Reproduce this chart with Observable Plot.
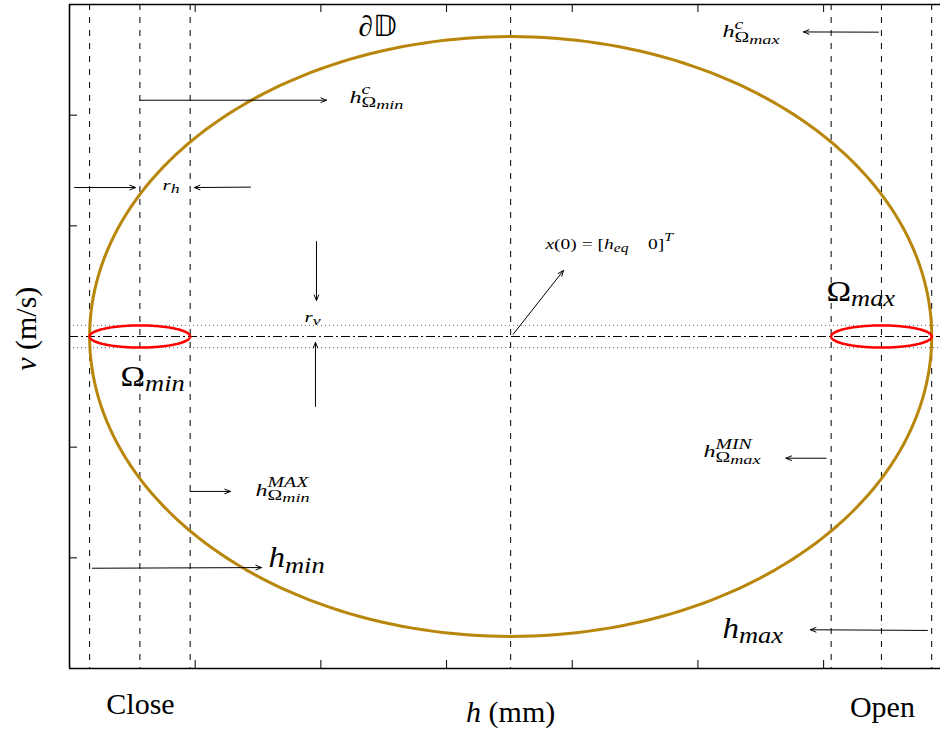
<!DOCTYPE html>
<html>
<head>
<meta charset="utf-8">
<script src="https://cdn.jsdelivr.net/npm/d3@7"></script>
<script src="https://cdn.jsdelivr.net/npm/@observablehq/plot@0.6"></script>
<style>
  html, body { margin: 0; padding: 0; background: #fff; overflow: hidden; }
  #chart svg { display: block; }
</style>
</head>
<body>
<div id="chart"></div>
<script>
// Operating region of the valve in the (h, v) plane:
// gap h (mm) on the horizontal axis, velocity v (m/s) on the vertical one.

const hTicks = [1, 2, 3, 4, 5, 6];
const vTicks = [-2, -1, 0, 1, 2];

const hMin = 0.16;        // fully closed
const hMax = 6.86;        // fully open
const hEq = 3.51;         // equilibrium gap, x(0) = [h_eq 0]^T
const vBound = 2.71;      // half-height of the admissible set ∂𝔻
const rH = 0.4;           // half-width of the terminal sets
const rV = 0.1;           // half-height of the terminal sets
const omegaCenters = [0.56, 6.46];   // h^c of Ω_min and Ω_max
const omegaNames = ["min", "max"];

// vertical guides: h_min, h^c_Ωmin, h^MAX_Ωmin, h_eq, h^MIN_Ωmax, h^c_Ωmax, h_max
const hGuides = [hMin, 0.56, 0.96, hEq, 6.06, 6.46, hMax];

// annotation arrows [h1, v1, h2, v2]
const arrows = [
  [0.56, 2.135, 2.045, 2.135],    // h^c_Ωmin
  [0.04, 1.346, 0.525, 1.346],    // r_h (from the left)
  [1.44, 1.350, 0.994, 1.346],    // r_h (from the right)
  [6.436, 2.750, 5.84, 2.752],    // h^c_Ωmax
  [1.965, 0.858, 1.965, 0.325],   // r_v (from above)
  [1.957, -0.632, 1.957, -0.054], // r_v (from below)
  [3.53, 0.02, 3.93, 0.596],      // x(0)
  [0.96, -1.40, 1.28, -1.40],     // h^MAX_Ωmin
  [6.02, -1.10, 5.70, -1.10],     // h^MIN_Ωmax
  [0.183, -2.094, 1.527, -2.088], // h_min
  [6.826, -2.656, 5.895, -2.650]  // h_max
];

// annotation text (mini TeX: ^ and _ for scripts, backticks for upright text)
const labelTex = [
  "∂𝔻",
  "h^{c}_{Ω_{min}}",
  "r_{h}",
  "h^{c}_{Ω_{max}}",
  "r_{v}",
  "x(0) = [h_{eq}\u2002\u20020]^{T}",
  "Ω_{max}",
  "Ω_{min}",
  "h^{MAX}_{Ω_{min}}",
  "h^{MIN}_{Ω_{max}}",
  "h_{min}",
  "h_{max}",
  "`Close`",
  "`Open`",
  "h `(mm)`",
  "v `(m/s)`"
];
const labelH = [2.30, 2.227, 0.74, 5.195, 1.87, 3.787, 6.023, 0.406, 1.48, 5.044, 1.583, 5.195, 0.565, 6.468, 3.51, -0.27];
const labelV = [2.711, 2.114, 1.328, 2.702, 0.127, 0.795, 0.325, -0.443, -1.437, -1.093, -2.087, -2.72, -3.407, -3.434, -3.479, 0.07];
const labelKind = ["title", "small", "tiny", "small", "tiny", "mid", "big", "big", "small", "small", "big", "big", "axis", "axis", "axis", "yaxis"];

// typographic settings per kind of label
const fontSize = {title: 29, big: 29, small: 17, tiny: 15, mid: 15, axis: 30, yaxis: 30};
const scriptScale = {title: 0.8, big: 0.8, small: 0.82, tiny: 0.85, mid: 0.8, axis: 0.8, yaxis: 0.8};
const widthStretch = {title: 1, big: 1.14, small: 1.42, tiny: 1.4, mid: 1.3, axis: 1, yaxis: 1};

// outline of an ellipse centred on (cx, cy) with semi-axes rx, ry
function ellipse(cx, cy, rx, ry, key) {
  return d3.range(241).map(k => {
    const t = (2 * Math.PI * k) / 240;
    return {h: cx + rx * Math.cos(t), v: cy + ry * Math.sin(t), key};
  });
}
const boundary = ellipse(hEq, 0, (hMax - hMin) / 2, vBound, "D");
const omegas = omegaCenters.flatMap((c, i) => ellipse(c, 0, rH, rV, omegaNames[i]));

const allIdx = labelKind.map((k, i) => i);
const startIdx = allIdx.filter(i => !labelKind[i].includes("axis"));
const axisIdx = allIdx.filter(i => labelKind[i] === "axis");
const yIdx = allIdx.filter(i => labelKind[i] === "yaxis");

const textOpts = {
  x: i => labelH[i],
  y: i => labelV[i],
  text: i => "§" + i,
  fill: "black",
  lineAnchor: "bottom"
};

const plot = Plot.plot({
  width: 940,
  height: 731,
  marginLeft: 69,
  marginRight: 0,
  marginTop: 4,
  marginBottom: 63,
  x: {domain: [0, 6.93], axis: null},
  y: {domain: [-3, 3], axis: null},
  style: {fontFamily: "'Liberation Serif', serif", background: "white", overflow: "visible"},
  marks: [
    // set-point axis and the ±r_v band
    Plot.ruleY([0], {stroke: "black", strokeWidth: 1, strokeDasharray: "9,3,2,3"}),
    Plot.ruleY([-rV, rV], {stroke: "#666", strokeWidth: 1, strokeDasharray: "1,3"}),
    // vertical guides
    Plot.ruleX(hGuides, {stroke: "black", strokeWidth: 1, strokeDasharray: "6,7"}),
    // admissible set and the two terminal sets
    Plot.line(boundary, {x: "h", y: "v", stroke: "#b8860b", strokeWidth: 3}),
    Plot.line(omegas, {x: "h", y: "v", z: "key", stroke: "red", strokeWidth: 2.5}),
    // frame (left, top, bottom) with inward ticks
    Plot.ruleX([0], {stroke: "black", strokeWidth: 1.6}),
    Plot.ruleY([-3, 3], {stroke: "black", strokeWidth: 1.6}),
    Plot.ruleX(hTicks, {stroke: "black", strokeWidth: 1, insetTop: 656}),
    Plot.ruleX(hTicks, {stroke: "black", strokeWidth: 1, insetBottom: 656}),
    Plot.ruleY(vTicks, {stroke: "black", strokeWidth: 1, insetRight: 863}),
    // annotations
    Plot.arrow(arrows, {
      x1: d => d[0], y1: d => d[1], x2: d => d[2], y2: d => d[3],
      stroke: "black", strokeWidth: 1, headLength: 9, headAngle: 45
    }),
    Plot.text(startIdx, {...textOpts, textAnchor: "start"}),
    Plot.text(axisIdx, {...textOpts, textAnchor: "middle"}),
    Plot.text(yIdx, {...textOpts, textAnchor: "middle", rotate: -90})
  ]
});

document.getElementById("chart").append(plot);

// --- math typesetting of the labels with tspans ---
const SVGNS = "http://www.w3.org/2000/svg";

function layout(s, shift, scale, ratio, depth, roman, out) {
  let i = 0;
  let supRange = null;
  const next = depth === 0 ? ratio : 0.92;
  const readGroup = () => {
    if (s[i] === "{") {
      let level = 1, j = i + 1;
      for (; level; j++) {
        if (s[j] === "{") level++;
        else if (s[j] === "}") level--;
      }
      const g = s.slice(i + 1, j - 1);
      i = j;
      return g;
    }
    const ch = String.fromCodePoint(s.codePointAt(i));
    i += ch.length;
    return ch;
  };
  while (i < s.length) {
    const c = s[i];
    if (c === "^") {
      i++;
      const g = readGroup();
      const a = out.length;
      layout(g, shift - 0.48 * scale, scale * next, ratio, depth + 1, roman, out);
      supRange = [a, out.length];
      continue;
    }
    if (c === "_") {
      i++;
      const g = readGroup();
      const a = out.length;
      const drop = supRange ? 0.26 : (depth === 0 ? 0.2 : 0.16);
      layout(g, shift + drop * scale, scale * next, ratio, depth + 1, roman, out);
      if (supRange && out[a]) out[a].back = d3.range(supRange[0], supRange[1]);
      supRange = null;
      continue;
    }
    if (c === "`") { roman = !roman; i++; continue; }
    supRange = null;
    const ch = String.fromCodePoint(s.codePointAt(i));
    i += ch.length;
    const italic = !roman && /[A-Za-z]/.test(ch);
    const last = out[out.length - 1];
    if (last && last.open && last.shift === shift && last.scale === scale && last.italic === italic) {
      last.t += ch;
    } else {
      if (last) last.open = false;
      out.push({t: ch, shift, scale, italic, open: true});
    }
  }
  const last = out[out.length - 1];
  if (last) last.open = false;
}

function typeset(el, tex, kind) {
  const size = fontSize[kind];
  el.textContent = "";
  el.removeAttribute("dy");
  el.setAttribute("font-size", size);
  const segs = [];
  layout(tex, 0, 1, scriptScale[kind], 0, false, segs);
  const spans = [];
  let cur = 0;
  for (const s of segs) {
    const t = document.createElementNS(SVGNS, "tspan");
    t.textContent = s.t;
    t.setAttribute("font-size", (size * s.scale).toFixed(2));
    if (s.italic) t.setAttribute("font-style", "italic");
    const target = s.shift * size;
    if (Math.abs(target - cur) > 1e-6) {
      t.setAttribute("dy", (target - cur).toFixed(2));
      cur = target;
    }
    el.append(t);
    spans.push(t);
    if (s.back) {
      const w = d3.sum(s.back, k => spans[k].getComputedTextLength());
      t.setAttribute("dx", (-w).toFixed(2));
    }
  }
  // horizontal stretch of the lettering about its anchor point
  const sx = widthStretch[kind];
  if (sx !== 1) {
    let tr = el.getAttribute("transform") || "";
    if (el.hasAttribute("x") || el.hasAttribute("y")) {
      tr = `translate(${el.getAttribute("x") || 0},${el.getAttribute("y") || 0}) ` + tr;
      el.removeAttribute("x");
      el.removeAttribute("y");
    }
    el.setAttribute("transform", `${tr} scale(${sx},1)`);
  }
}

plot.querySelectorAll("text").forEach(el => {
  const m = /^§(\d+)$/.exec(el.textContent);
  if (!m) return;
  const i = +m[1];
  typeset(el, labelTex[i], labelKind[i]);
});
</script>
</body>
</html>
